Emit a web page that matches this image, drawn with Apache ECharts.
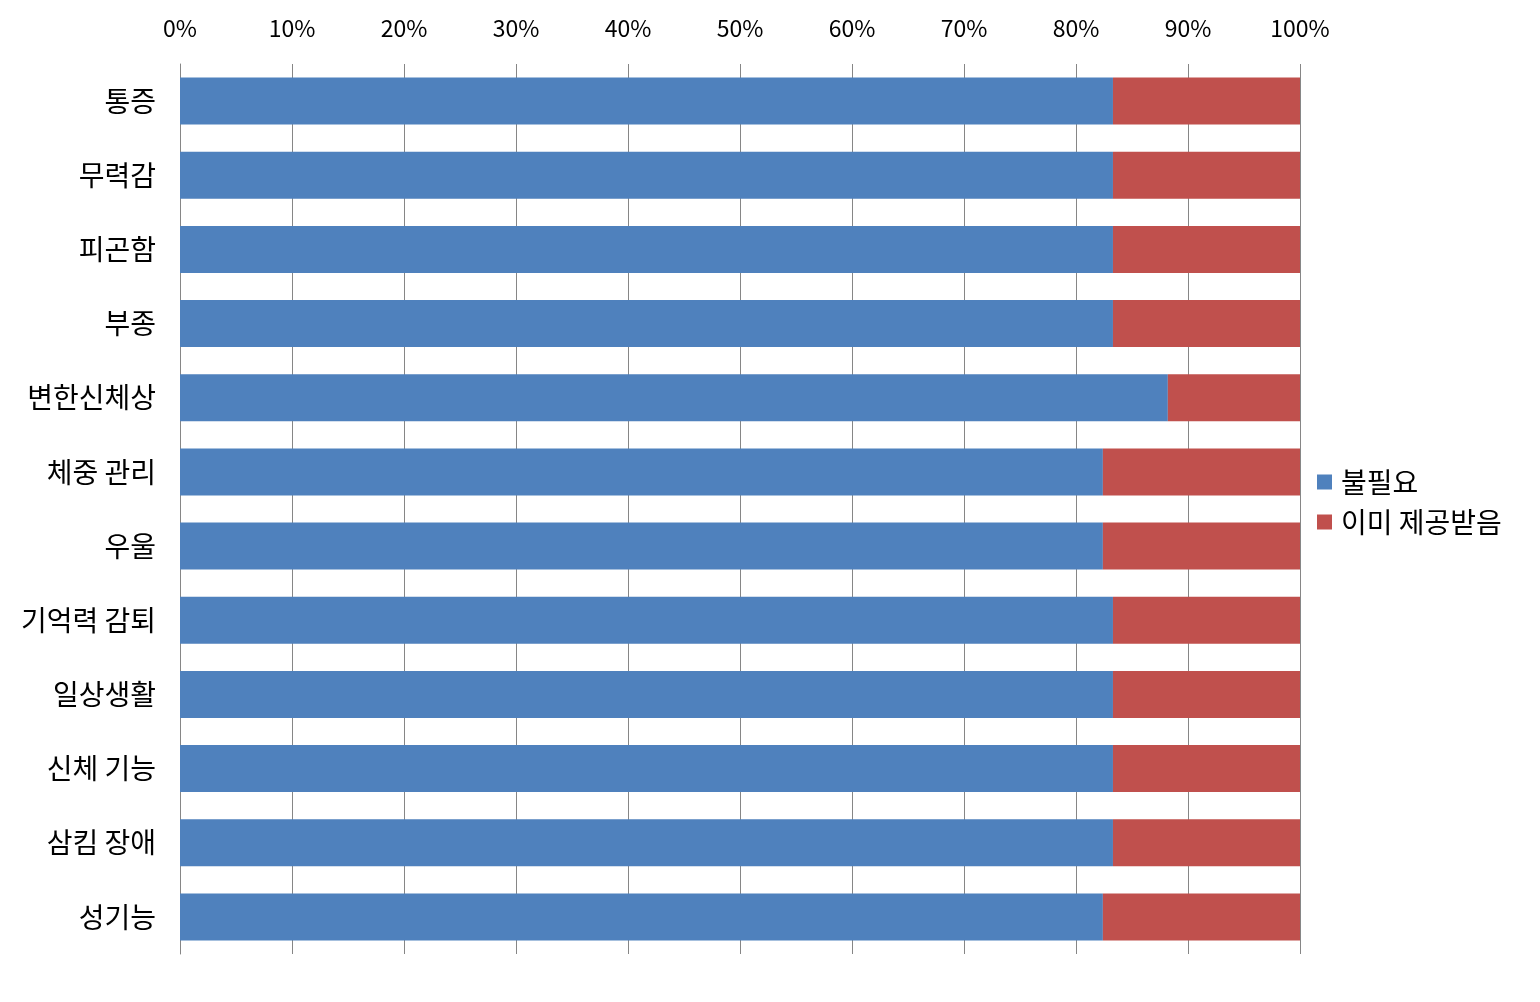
<!DOCTYPE html>
<html><head><meta charset="utf-8">
<script src="https://cdn.jsdelivr.net/npm/echarts@6/dist/echarts.min.js"></script>
<style>html,body{margin:0;padding:0;background:#fff}#c{width:1540px;height:1002px}</style>
</head><body><div id="c"></div>
<script>
const categories = ['통증','무력감','피곤함','부종','변한신체상','체중 관리','우울','기억력 감퇴','일상생활','신체 기능','삼킴 장애','성기능'];
const seriesNames = ['불필요','이미 제공받음'];
const notNeeded = [83.3,83.3,83.3,83.3,88.2,82.4,82.4,83.3,83.3,83.3,83.3,82.4];
const alreadyProvided = [16.7,16.7,16.7,16.7,11.8,17.6,17.6,16.7,16.7,16.7,16.7,17.6];
const font = '"Noto Sans CJK KR", "Noto Sans", sans-serif';
const chart = echarts.init(document.getElementById('c'));
chart.setOption({
  animation:false,
  backgroundColor:'#fff',
  grid:{left:180,right:240,top:64,bottom:48},
  legend:{orient:'vertical',left:1312,top:463,itemWidth:15,itemHeight:15,itemGap:12,icon:'rect',
    textStyle:{fontFamily:font,fontSize:28,color:'#000',padding:[0,0,0,4],lineHeight:28},data:seriesNames},
  xAxis:{type:'value',position:'top',min:0,max:100,interval:10,
    axisLine:{show:false},axisTick:{show:false},
    axisLabel:{formatter:'{value}%',fontFamily:font,fontSize:23,color:'#000',margin:24},
    splitLine:{show:true,lineStyle:{color:'#868686',width:1}}},
  yAxis:{type:'category',inverse:true,data:categories,
    axisLine:{show:true,lineStyle:{color:'#868686'}},axisTick:{show:false},
    axisLabel:{fontFamily:font,fontSize:28,color:'#000',margin:24}},
  series:[
    {name:seriesNames[0],type:'bar',stack:'a',data:notNeeded,barWidth:47,itemStyle:{color:'#4F81BD'}},
    {name:seriesNames[1],type:'bar',stack:'a',data:alreadyProvided,barWidth:47,itemStyle:{color:'#C0504D'}}
  ]
});
</script></body></html>
